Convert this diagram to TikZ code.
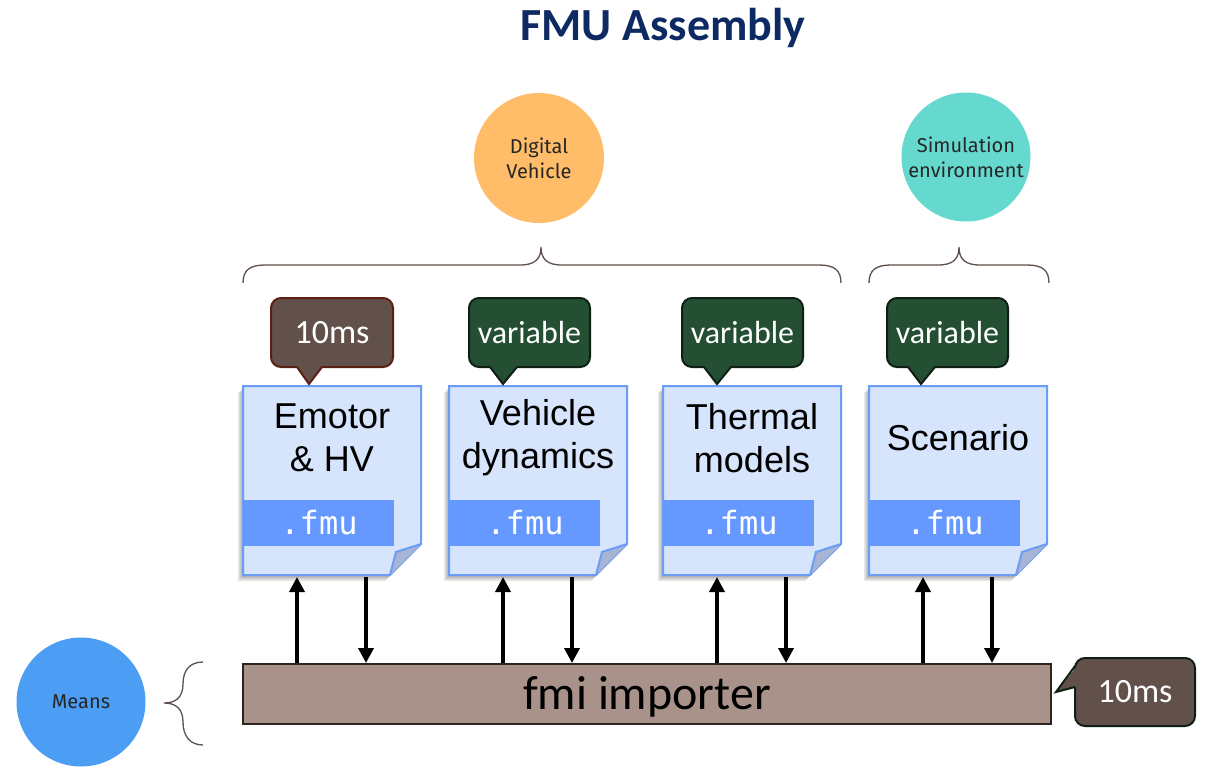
\documentclass[tikz,border=0pt]{standalone}
\usepackage{fontspec}
\setmainfont{Liberation Sans}
\newfontfamily\calfont{Carlito}
\newfontfamily\monofnt{DejaVu Sans Mono}
\newfontfamily\circfont{Fira Sans}
\usetikzlibrary{arrows.meta,calc}
\definecolor{titleblue}{HTML}{0E2A63}
\definecolor{dvorange}{HTML}{FFBD69}
\definecolor{simteal}{HTML}{66D9CF}
\definecolor{meansblue}{HTML}{4C9EF4}
\definecolor{docfill}{HTML}{D6E4FC}
\definecolor{docline}{HTML}{6B9DF5}
\definecolor{bandblue}{HTML}{6699FF}
\definecolor{flapcol}{HTML}{A8B4D4}
\definecolor{brownfill}{HTML}{61514A}
\definecolor{brownline}{HTML}{5B1F14}
\definecolor{greenfill}{HTML}{244F33}
\definecolor{greenline}{HTML}{0F1F14}
\definecolor{barfill}{HTML}{A89289}
\definecolor{barline}{HTML}{2D2420}
\definecolor{bracecol}{HTML}{5F504B}
\tikzset{
  bubble/.style={circle, inner sep=0pt, font=\circfont\fontsize{20}{25}\selectfont, text=black!85, align=center},
  docshape/.style={fill=docfill, draw=docline, line width=2pt, line join=miter},
  doctext/.style={font=\fontsize{36}{43}\selectfont, align=center, text=black},
  fmutext/.style={font=\monofnt\fontsize{32}{36}\selectfont, text=white},
  callbrown/.style={rounded corners=10pt, fill=brownfill, draw=brownline, line width=2pt, text=white,
     minimum width=122pt, minimum height=69pt, font=\calfont\fontsize{34}{40}\selectfont},
  callgreen/.style={rounded corners=10pt, fill=greenfill, draw=greenline, line width=2pt, text=white,
     minimum width=121pt, minimum height=69pt, font=\calfont\fontsize{32}{40}\selectfont},
  bracestyle/.style={draw=bracecol, line width=1.3pt},
  arr/.style={line width=3.5pt, -{Triangle[width=15pt,length=15pt]}},
}
\newcommand\fmudoc[3]{%
  \foreach \k in {1,2,3,4}{%
    \fill[black, opacity=0.09] (#2-1.2*\k,386+1.5*\k) -- (#2+178-1.2*\k,386+1.5*\k) -- (#2+178-1.2*\k,544+1.5*\k) -- (#2+147-1.2*\k,575+1.5*\k) -- (#2-1.2*\k,575+1.5*\k) -- cycle;}
  \node[minimum width=178pt, minimum height=189pt, inner sep=0pt] (#1) at (#2+89,480.5) {};
  \draw[docshape] (#2,386) -- (#2+178,386) -- (#2+178,544) -- (#2+147,575) -- (#2,575) -- cycle;
  \fill[bandblue] (#2,500) rectangle (#2+151,546);
  \node[fmutext] (#1fmu) at (#2+76,523) {.fmu};
  \fill[flapcol] (#2+178,544) -- (#2+153,552) -- (#2+147,575) -- cycle;
  \draw[docline, line width=2pt, line join=miter] (#2+178,544) -- (#2+153,552) -- (#2+147,575);
  \node[doctext] (#1t) at (#2+89,438) {#3};
  \coordinate (#1up) at (#2+54,577);
  \coordinate (#1dn) at (#2+123,577);
}
\begin{document}
\begin{tikzpicture}[x=1pt,y=-1pt]
\useasboundingbox (0,0) rectangle (1205,766);
\fill[white] (0,0) rectangle (1205,766);

% title
\node[font=\calfont\bfseries\fontsize{46}{50}\selectfont, text=titleblue] (title) at (663,28) {FMU Assembly};

% circles
\node[bubble, fill=dvorange, minimum size=130pt] (dv) at (539,158) {Digital\\Vehicle};
\node[bubble, fill=simteal, minimum size=129pt] (sim) at (966,157) {Simulation\\environment};
\node[bubble, fill=meansblue, minimum size=129pt] (means) at (81,702) {Means};

% braces
\draw[bracestyle] (243,283) .. controls (243,270) and (250,265) .. (265,265) -- (520,265)
  .. controls (535,265) and (541,259) .. (541,247)
  .. controls (541,259) and (547,265) .. (562,265) -- (819,265)
  .. controls (834,265) and (841,270) .. (841,283);
\draw[bracestyle] (869,283) .. controls (869,270) and (876,265) .. (891,265) -- (938,265)
  .. controls (953,265) and (959,259) .. (959,247)
  .. controls (959,259) and (965,265) .. (980,265) -- (1027,265)
  .. controls (1042,265) and (1049,270) .. (1049,283);
\draw[bracestyle] (203,662) .. controls (190,662) and (183,670) .. (183,684)
  .. controls (183,697) and (176,703) .. (164,703)
  .. controls (176,703) and (183,709) .. (183,722)
  .. controls (183,736) and (190,745) .. (203,745);

% documents
\fmudoc{d1}{243}{Emotor\\\& HV}
\fmudoc{d2}{449}{Vehicle\\dynamics}
\fmudoc{d3}{663}{Thermal\\models}
\fmudoc{d4}{869}{Scenario}

% callouts
\node[callbrown] (c1) at (332,332.5) {10ms};
\fill[brownfill] (297,366) -- (309,384) -- (322,366) -- cycle;
\draw[brownline, line width=2pt, line join=miter] (297,367) -- (309,384) -- (322,367);

\node[callgreen] (c2) at (529.5,332.5) {variable};
\fill[greenfill] (490,366) -- (503,384) -- (517,366) -- cycle;
\draw[greenline, line width=2pt, line join=miter] (490,367) -- (503,384) -- (517,367);

\node[callgreen] (c3) at (742.5,332.5) {variable};
\fill[greenfill] (704,366) -- (717,384) -- (731,366) -- cycle;
\draw[greenline, line width=2pt, line join=miter] (704,367) -- (717,384) -- (731,367);

\node[callgreen] (c4) at (947.5,332.5) {variable};
\fill[greenfill] (908,366) -- (921,384) -- (935,366) -- cycle;
\draw[greenline, line width=2pt, line join=miter] (908,367) -- (921,384) -- (935,367);

% importer bar
\node[fill=barfill, draw=barline, line width=2pt, minimum width=808pt, minimum height=60pt, inner sep=0pt] (bar) at (647,694) {};
\node[font=\calfont\fontsize{48}{50}\selectfont, text=black] (bartext) at (647,697) {fmi importer};

% bottom callout
\node[callbrown, draw=greenline, minimum width=120pt, minimum height=68pt] (c5) at (1135,692) {10ms};
\fill[brownfill] (1077,666) -- (1056,692) -- (1077,687) -- cycle;
\draw[greenline, line width=2pt, line join=miter] (1075,666) -- (1056,692) -- (1075,687);

% arrows
\foreach \d in {d1,d2,d3,d4}{
  \draw[arr] (bar.north -| \d up) -- (\d up);
  \draw[arr] (\d dn) -- (bar.north -| \d dn);
}
\end{tikzpicture}
\end{document}
